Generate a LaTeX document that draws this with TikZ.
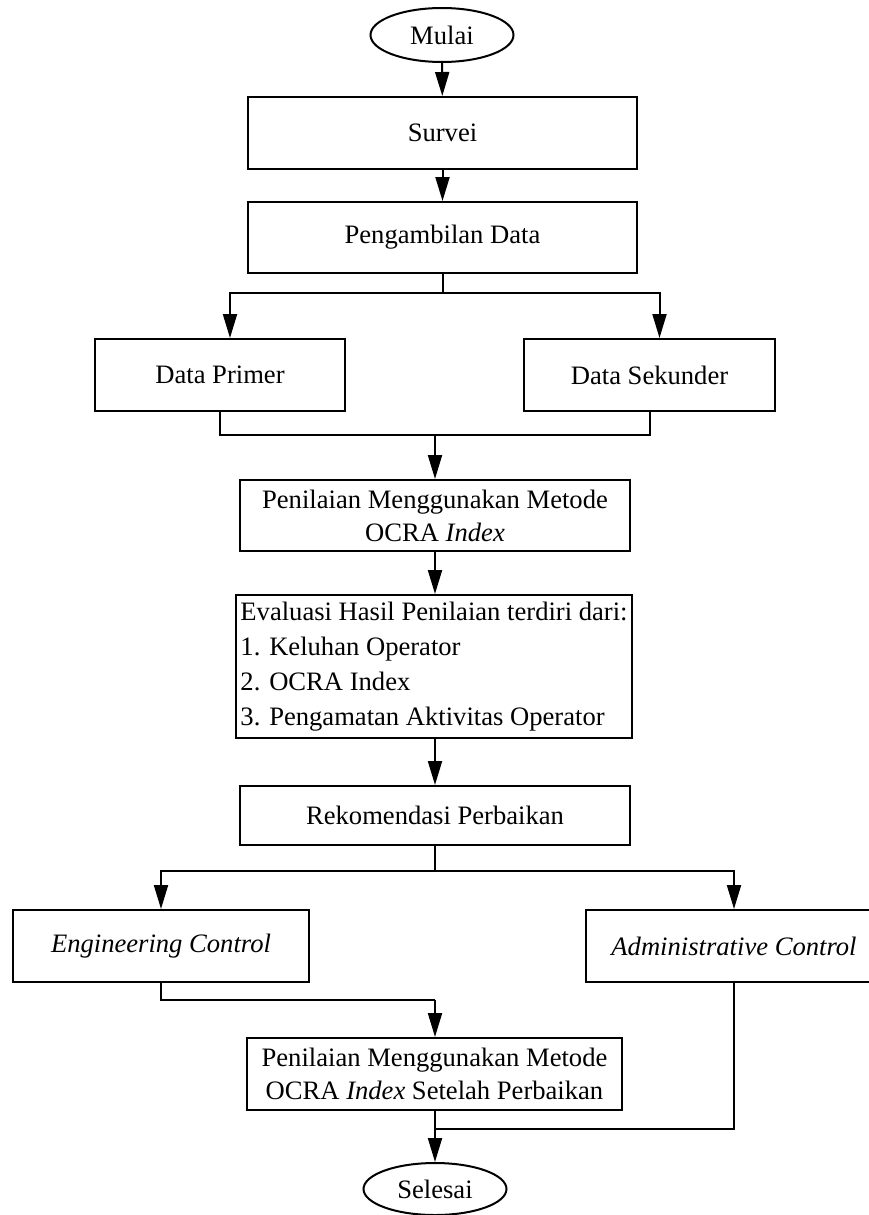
\documentclass[tikz,border=0pt]{standalone}
\usepackage{fontspec}
\setmainfont{Liberation Serif}
\usepackage{tikz}
\usetikzlibrary{positioning}
\usetikzlibrary{arrows.meta}
\usetikzlibrary{shapes.geometric}

\begin{document}
\begin{tikzpicture}[x=0.5pt,y=-0.5pt,
  line width=1pt,
  font=\fontsize{13.3}{16.5}\selectfont,
  box/.style={draw,rectangle,inner sep=2pt,align=center},
  term/.style={draw,ellipse,inner sep=0pt,minimum width=71.5pt,minimum height=27pt},
  arr/.style={-{Triangle[length=12pt,width=7pt]}}]

% page size
\useasboundingbox (0,0) rectangle (868,1215);

% Start and first steps
\node[term] (mulai) at (442,35) {Mulai};
\node[box,minimum width=194.5pt,minimum height=36pt] (survei) at (442.5,133) {Survei};
\node[box,minimum width=194.5pt,minimum height=35.5pt] (ambil) at (442.5,237.5) {Pengambilan Data};

% Data boxes
\node[box,minimum width=125pt,minimum height=36pt] (primer) at (220,375) {Data Primer};
\node[box,minimum width=125.5pt,minimum height=36pt] (sekunder) at (649.5,375) {Data Sekunder};

% Assessment and evaluation
\node[box,minimum width=195pt,minimum height=35.5pt] (nilai) at (435,515.5)
  {Penilaian Menggunakan Metode\\OCRA \textit{Index}};
\node[box,minimum width=196pt,minimum height=71.5pt,align=left,
  font=\fontsize{13.3}{17.5}\selectfont] (evaluasi) at (434,666.5)
  {Evaluasi Hasil Penilaian terdiri dari:\\1. Keluhan Operator\\2. OCRA Index\\3. Pengamatan Aktivitas Operator};
\node[box,minimum width=195pt,minimum height=29.5pt] (rekom) at (435,815.5) {Rekomendasi Perbaikan};

% Control boxes
\node[box,minimum width=148pt,minimum height=36pt] (engineer) at (161,946) {\textit{Engineering Control}};
\node[box,minimum width=148pt,minimum height=36pt] (admin) at (734,946) {\textit{Administrative Control}};

% Final assessment and end
\node[box,minimum width=187.5pt,minimum height=36pt] (nilaiakhir) at (434.5,1074)
  {Penilaian Menggunakan Metode\\OCRA \textit{Index} Setelah Perbaikan};
\node[term,minimum height=26pt] (selesai) at (435,1189) {Selesai};

% Branch points
\coordinate (cabang1) at (442.5,293);
\coordinate (gabung1) at (435,435);
\coordinate (cabang2) at (435,871);
\coordinate (gabung2) at (435,1000);
\coordinate (gabung3) at (435,1129);

% Connectors
\draw[arr] (mulai) -- (survei);
\draw[arr] (survei) -- (ambil);

\draw (ambil.south) -- (cabang1);
\draw[arr] (cabang1) -| ([xshift=5pt]primer.north);
\draw[arr] (cabang1) -| ([xshift=5pt]sekunder.north);

\draw (primer.south) |- (gabung1);
\draw (sekunder.south) |- (gabung1);
\draw[arr] (gabung1) -- (nilai.north -| gabung1);

\draw[arr] (nilai.south -| gabung1) -- (evaluasi.north -| gabung1);
\draw[arr] (evaluasi.south -| gabung1) -- (rekom.north);

\draw (rekom.south) -- (cabang2);
\draw[arr] (cabang2) -| (engineer.north);
\draw[arr] (cabang2) -| (admin.north);

\draw (engineer.south) |- (gabung2);
\draw[arr] (gabung2) -- (nilaiakhir.north -| gabung2);

\draw (admin.south) |- (gabung3);
\draw[arr] (nilaiakhir.south -| gabung3) -- (selesai.north);

\end{tikzpicture}
\end{document}
